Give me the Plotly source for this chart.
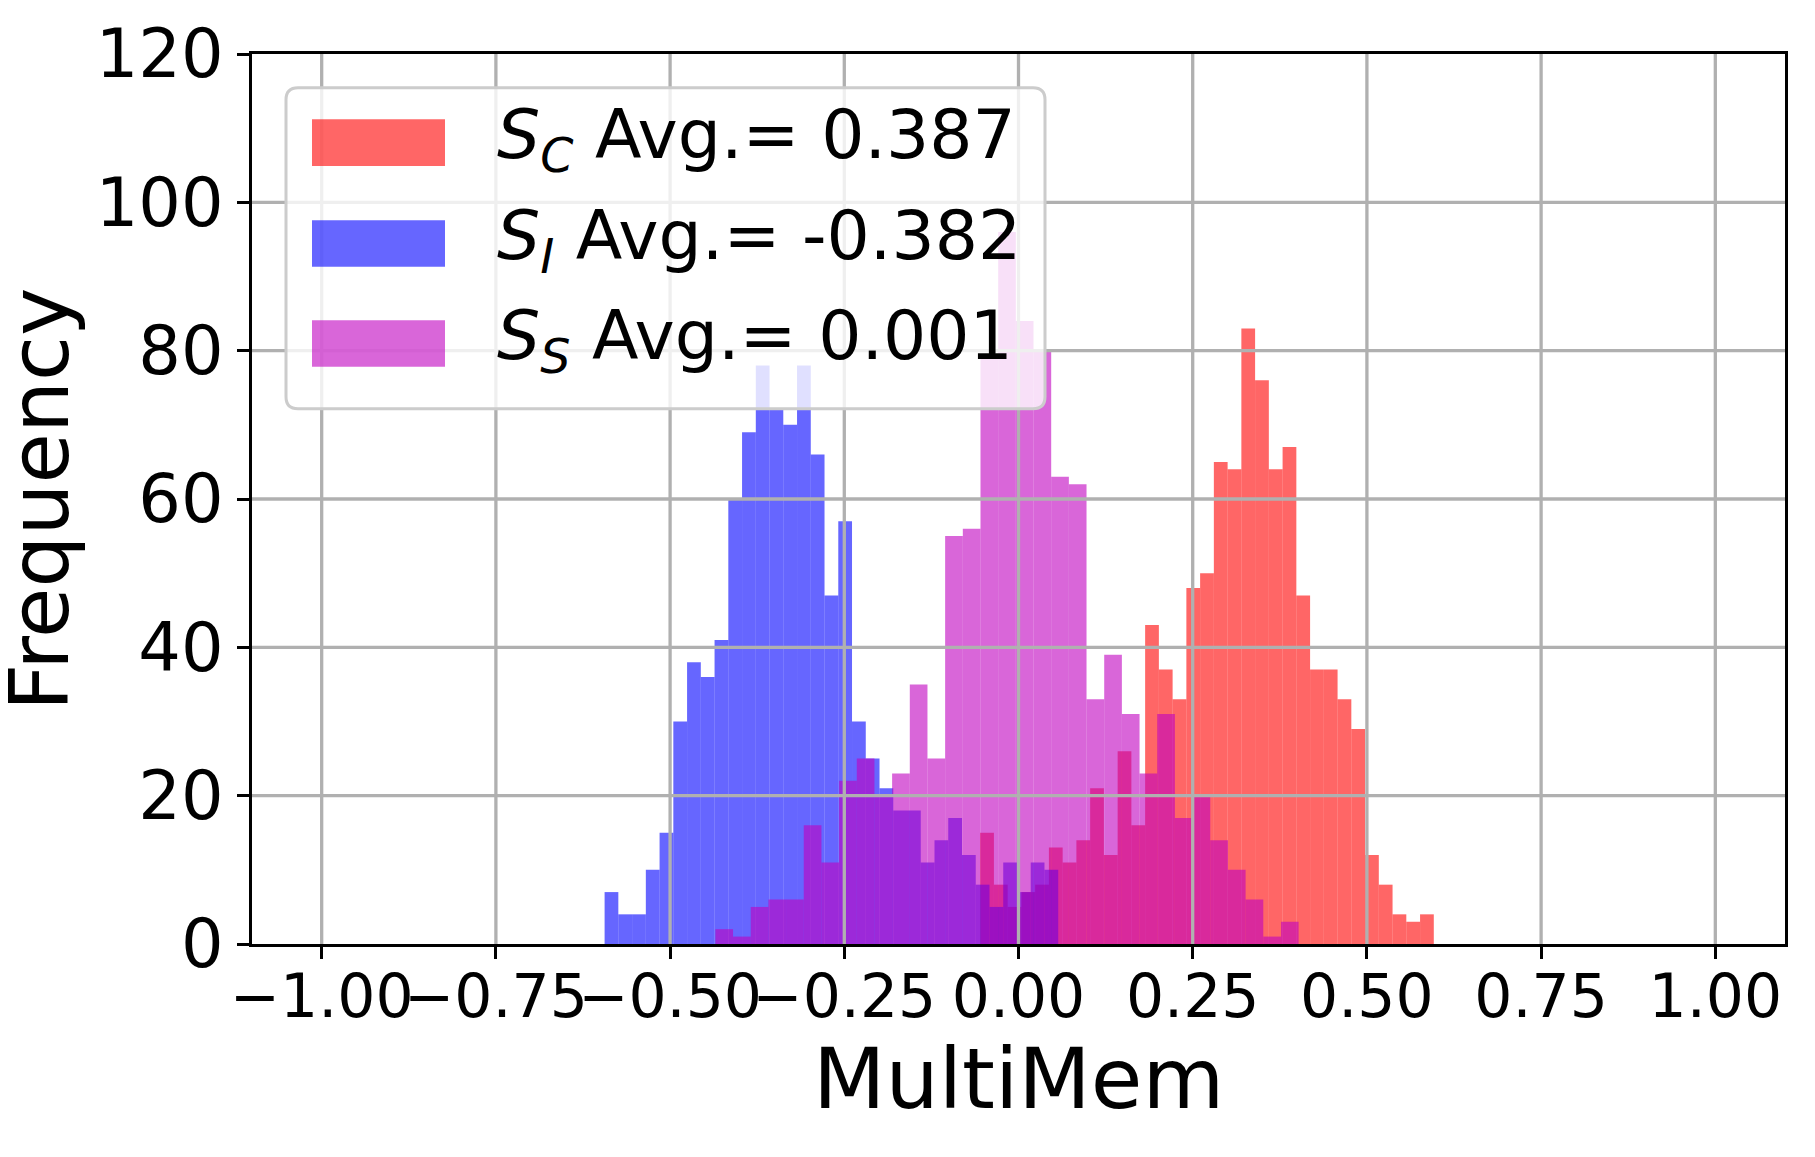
import numpy as np
import plotly.graph_objects as go

# ---------------- data ----------------
SERIES_SUB = ["C", "I", "S"]
SERIES_AVG = ["0.387", "-0.382", "0.001"]

SC_RANGE = (-0.055, 0.596)
SC_COUNTS = [15, 8, 5, 7, 8, 13, 11, 14, 21, 12, 26, 16, 43, 37, 33, 48, 50,
             65, 64, 83, 76, 64, 67, 47, 37, 37, 33, 29, 12, 8, 4, 3, 4]

SI_RANGE = (-0.594, 0.057)
SI_COUNTS = [7, 4, 4, 10, 15, 30, 38, 36, 41, 60, 69, 78, 72, 70, 78, 66, 47,
             57, 30, 25, 21, 18, 18, 11, 14, 17, 12, 8, 5, 11, 7, 11, 10]

SS_RANGE = (-0.435, 0.402)
SS_COUNTS = [2, 1, 5, 6, 6, 16, 11, 22, 25, 20, 23, 35, 25, 55, 56, 79, 96,
             84, 80, 63, 62, 33, 39, 31, 23, 31, 17, 20, 14, 10, 6, 1, 3]

X_TICKS = [-1.0, -0.75, -0.5, -0.25, 0.0, 0.25, 0.5, 0.75, 1.0]
Y_TICKS = [0, 20, 40, 60, 80, 100, 120]
X_RANGE = [-1.1, 1.1]
Y_RANGE = [0, 120]

# ---------------- styling ----------------
COLORS = ["rgba(255,0,0,0.6)", "rgba(0,0,255,0.6)", "rgba(191,0,191,0.6)"]
FONT = "DejaVu Sans"
GRID = "#b0b0b0"

W, H = 1815, 1157
L, R, T, B = 252.0, 1785.0, 54.2, 943.4


def px_x(X):
    return (X - L) / (R - L)


def px_y(Y):
    return (B - Y) / (B - T)


fig = go.Figure()

for rng, counts, col in zip([SC_RANGE, SI_RANGE, SS_RANGE],
                            [SC_COUNTS, SI_COUNTS, SS_COUNTS], COLORS):
    edges = np.linspace(rng[0], rng[1], len(counts) + 1)
    centers = (edges[:-1] + edges[1:]) / 2
    width = edges[1] - edges[0]
    fig.add_trace(go.Bar(x=centers, y=counts, width=width,
                         marker=dict(color=col, line=dict(width=0)),
                         showlegend=False, hoverinfo="skip"))

shapes = []
# grid lines above bars (as matplotlib draws them)
for v in X_TICKS:
    shapes.append(dict(type="line", xref="x", yref="y", x0=v, x1=v,
                       y0=Y_RANGE[0], y1=Y_RANGE[1],
                       line=dict(color=GRID, width=3.3), layer="above"))
for v in Y_TICKS[1:-1]:
    shapes.append(dict(type="line", xref="x", yref="y", x0=X_RANGE[0],
                       x1=X_RANGE[1], y0=v, y1=v,
                       line=dict(color=GRID, width=3.3), layer="above"))

# legend frame (rounded, semi-transparent)
bx0, bx1, by0, by1 = 286.0, 1045.0, 88.0, 408.6
rad = 12.0
x0, x1 = px_x(bx0), px_x(bx1)
y0, y1 = px_y(by0), px_y(by1)
rx = rad / (R - L)
ry = rad / (B - T)
path = (f"M {x0+rx},{y0} L {x1-rx},{y0} Q {x1},{y0} {x1},{y0-ry} "
        f"L {x1},{y1+ry} Q {x1},{y1} {x1-rx},{y1} "
        f"L {x0+rx},{y1} Q {x0},{y1} {x0},{y1+ry} "
        f"L {x0},{y0-ry} Q {x0},{y0} {x0+rx},{y0} Z")
shapes.append(dict(type="path", xref="paper", yref="paper", path=path,
                   fillcolor="rgba(255,255,255,0.8)",
                   line=dict(color="rgba(204,204,204,1)", width=3),
                   layer="above"))

annotations = []
row_base = [166.0, 266.7, 366.7]
for i in range(3):
    base = row_base[i]
    shapes.append(dict(type="rect", xref="paper", yref="paper",
                       x0=px_x(312.0), x1=px_x(445.0),
                       y0=px_y(base - 46.5), y1=px_y(base),
                       fillcolor=COLORS[i], line=dict(width=0),
                       layer="above"))
    txt = (f"<i>S</i><sub><i>{SERIES_SUB[i]}</i></sub> Avg.= {SERIES_AVG[i]}")
    annotations.append(dict(text=txt, xref="paper", yref="paper",
                            x=px_x(495.0), y=px_y(base - 27.0),
                            xanchor="left", yanchor="middle",
                            showarrow=False,
                            font=dict(family=FONT, size=68, color="black")))

# axis titles
annotations.append(dict(text="MultiMem", xref="paper", yref="paper",
                        x=0.5, y=px_y(1078), xanchor="center",
                        yanchor="middle", showarrow=False,
                        font=dict(family=FONT, size=84, color="black")))
annotations.append(dict(text="Frequency", xref="paper", yref="paper",
                        x=px_x(39), y=0.5, xanchor="center",
                        yanchor="middle", textangle=-90, showarrow=False,
                        font=dict(family=FONT, size=82, color="black")))

x_labels = [f"{v:.2f}".replace("-", "\u2212") for v in X_TICKS]
y_labels = [str(v) for v in Y_TICKS]

fig.update_layout(
    width=W, height=H,
    margin=dict(l=int(L), r=int(W - R), t=int(T), b=int(H - B)),
    barmode="overlay",
    plot_bgcolor="white", paper_bgcolor="white",
    shapes=shapes, annotations=annotations,
    showlegend=False,
    font=dict(family=FONT, color="black"),
)
fig.update_xaxes(range=X_RANGE, tickmode="array", tickvals=X_TICKS,
                 ticktext=x_labels, tickangle=0, ticks="outside", ticklen=12,
                 tickwidth=3, tickcolor="black", showline=True,
                 linecolor="black", linewidth=3, mirror=True, showgrid=False,
                 zeroline=False, automargin=False, ticklabelstandoff=-14,
                 tickfont=dict(family=FONT, size=60, color="black"))
fig.update_yaxes(range=Y_RANGE, tickmode="array", tickvals=Y_TICKS,
                 ticktext=y_labels, ticks="outside", ticklen=12, tickwidth=3,
                 tickcolor="black", showline=True, linecolor="black",
                 linewidth=3, mirror=True, showgrid=False, zeroline=False,
                 automargin=False,
                 tickfont=dict(family=FONT, size=67, color="black"))

fig.write_html("out.html")
